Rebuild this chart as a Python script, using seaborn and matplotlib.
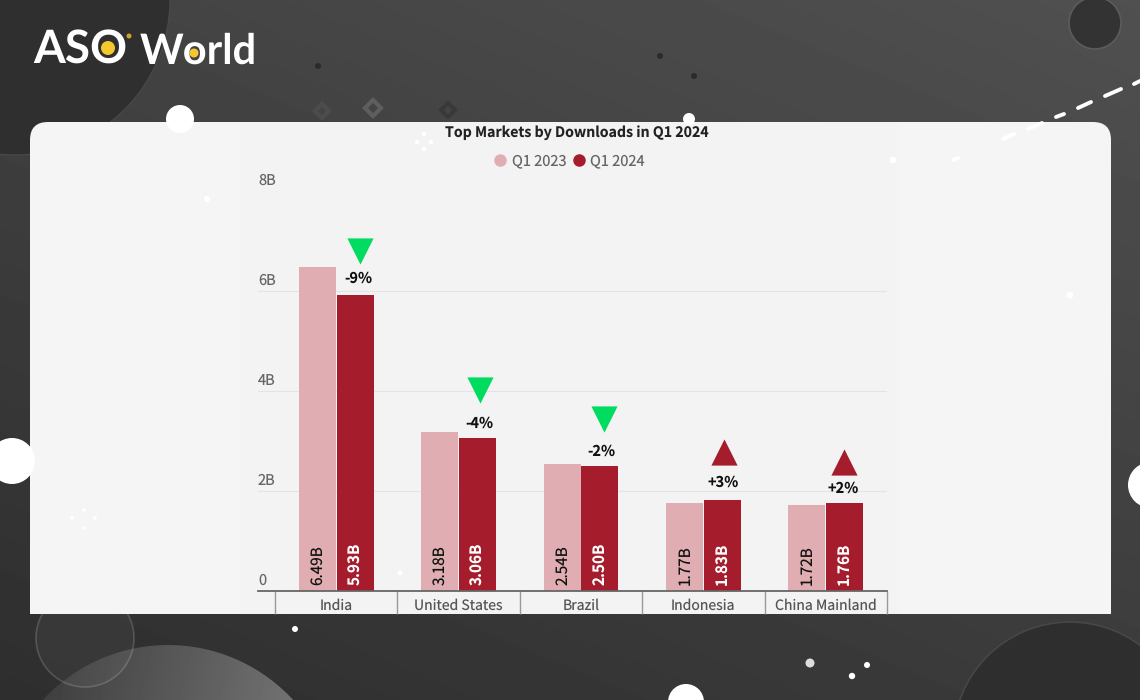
import matplotlib
matplotlib.use("Agg")
import matplotlib.pyplot as plt
from matplotlib.lines import Line2D
from matplotlib.patches import Circle, FancyBboxPatch, Polygon, Rectangle
from matplotlib.transforms import ScaledTranslation
import numpy as np
import pandas as pd
import seaborn as sns

# chart values, in billions of downloads
markets = ["India", "United States", "Brazil", "Indonesia", "China Mainland"]
q1_2023 = [6.49, 3.18, 2.54, 1.77, 1.72]
q1_2024 = [5.93, 3.06, 2.50, 1.83, 1.76]
change = ["-9%", "-4%", "-2%", "+3%", "+2%"]
y_ticks = [0, 2, 4, 6, 8]
y_labels = ["0", "2B", "4B", "6B", "8B"]

W, H = 1140, 700
PALE = "#E0AEB2"
RED = "#A51C2C"
GREEN = "#00DC5F"

sns.set_theme(style="white")
plt.rcParams["font.family"] = ["Noto Sans CJK SC", "DejaVu Sans"]
plt.rcParams["text.hinting"] = "none"

fig = plt.figure(figsize=(W / 100, H / 100), dpi=100)

# background layer, in pixel coordinates
bg = fig.add_axes([0, 0, 1, 1], zorder=0)
bg.axis("off")

xx, yy = np.meshgrid(np.arange(W), np.arange(H))
shade = 46 + 0.012 * xx + 0.029 * (H - yy)
bg.imshow(shade, cmap="gray", vmin=0, vmax=255, extent=(0, W, H, 0), aspect="auto", zorder=0)
bg.set_xlim(0, W)
bg.set_ylim(H, 0)

bg.add_patch(Circle((15, 0), 155, fc="#2f2f2f", ec="#484848", lw=1, zorder=1))
bg.add_patch(Circle((1070, 739), 117, fc="#2e2e2e", ec="#474747", lw=1.2, zorder=1))
bg.add_patch(Circle((1095, 23), 26, fc="#333333", ec="#5c5c5c", lw=1.2, zorder=1))

# dome at the bottom left, lighter to the right
dome = bg.imshow(52 + 0.2 * xx + 0.05 * (yy - 645), cmap="gray", vmin=0, vmax=255,
                 extent=(0, W, H, 0), aspect="auto", zorder=1)
dome.set_clip_path(Circle((168, 815), 170, transform=bg.transData))
bg.add_patch(Circle((85, 638), 49, fc=(1, 1, 1, 0.04), ec=(1, 1, 1, 0.16), lw=1.2, zorder=2))

# faint shapes over the top band
for x, y in [(318, 66), (660, 56), (694, 76)]:
    bg.add_patch(Circle((x, y), 3, fc="#2b2b2b", ec="none", zorder=2))
for x, y, r, c in [(373, 108, 8, "#5e5e5e"), (322, 111, 7, "#4c4c4c"), (448, 110, 7, "#393939")]:
    bg.add_patch(Polygon([(x - r, y), (x, y - r), (x + r, y), (x, y + r)], fc="none", ec=c, lw=3, zorder=2))

# card, square at the bottom
card = FancyBboxPatch((30 + 18, 122 + 18), 1081 - 36, 560, boxstyle="round,pad=18,rounding_size=18",
                      fc="#f5f5f5", ec="none", zorder=3)
bg.add_patch(card)
card.set_clip_path(Rectangle((0, 0), W, 614, transform=bg.transData))
bg.add_patch(Rectangle((240, 122), 660, 492, fc="#f3f3f3", ec="none", zorder=3))

# white dots and dashes over everything in the background
for x, y, r in [(180, 119, 14), (12, 461, 23), (1151, 485, 23), (686, 702, 18), (689, 119, 6),
                (295, 629, 3), (852, 676, 3.2), (867, 665, 3), (207, 199, 3), (893, 160, 3.5),
                (1070, 295, 3.5), (400, 573, 2.5), (424, 134, 2.2), (417, 142, 2.2), (431, 142, 2.2),
                (424, 149, 2.2), (72, 518, 1.8), (84, 510, 1.8), (95, 518, 1.8), (84, 528, 1.8)]:
    bg.add_patch(Circle((x, y), r, fc="white", ec="none", zorder=4))
bg.add_patch(Circle((810, 663), 4.5, fc="#dddddd", ec="none", zorder=4))
for x0, y0, x1, y1 in [(953, 160, 958, 158), (1003, 139, 1014, 134), (1028, 129, 1042, 123),
                       (1056, 117, 1064, 114), (1078, 108, 1091, 102), (1105, 96, 1121, 89),
                       (1134, 84, 1140, 81)]:
    bg.plot([x0, x1], [y0, y1], color="white", lw=2.8, solid_capstyle="round", zorder=4)

# logo
bg.text(33, 64, "ASO", color="white", family="Lato", weight="bold", fontsize=33,
        ha="left", va="baseline", zorder=5)
bg.text(140, 64, "World", color="white", family="Lato", weight="bold", fontsize=30,
        ha="left", va="baseline", zorder=5)
bg.add_patch(Circle((108, 48), 7, fc="#F4C82E", ec="none", zorder=6))
bg.add_patch(Circle((194, 53), 4.5, fc="#F4C82E", ec="none", zorder=6))
bg.add_patch(Circle((129, 36), 2.5, fc="#C9A52B", ec="none", zorder=6))

# chart layer
ax = fig.add_axes([258 / W, 1 - 591 / H, (887 - 258) / W, 400 / H], zorder=1)
ax.patch.set_alpha(0)

df = pd.DataFrame({
    "market": markets * 2,
    "downloads": q1_2023 + q1_2024,
    "quarter": ["Q1 2023"] * 5 + ["Q1 2024"] * 5,
})
sns.barplot(data=df, x="market", y="downloads", hue="quarter", palette=[PALE, RED],
            width=0.62, gap=0.025, saturation=1, legend=False, linewidth=0, ax=ax)

ax.set_xlim(-0.5 - 17 / 122.4, 4.5)
ax.set_ylim(0, 8)
ax.set_xlabel("")
ax.set_ylabel("")
sns.despine(ax=ax, left=True, right=True, top=True)
ax.spines["bottom"].set_color("#666666")
ax.spines["bottom"].set_linewidth(1.3)

ax.set_yticks(y_ticks)
ax.set_yticklabels(y_labels, ha="left", va="bottom", color="#666666", fontsize=10.5)
ax.tick_params(axis="y", length=0, pad=0)
for label in ax.get_yticklabels():
    label.set_transform(label.get_transform() + ScaledTranslation(0, 3 / 100, fig.dpi_scale_trans))
ax.yaxis.grid(True, color="#e4e4e4", lw=0.8)
ax.yaxis.get_gridlines()[-1].set_visible(False)
ax.set_axisbelow(True)

ax.set_xticks(range(len(markets)))
ax.set_xticklabels(markets, color="#555555", fontsize=10.1)
ax.tick_params(axis="x", which="major", length=0, pad=5.3)
ax.set_xticks(np.arange(len(markets) + 1) - 0.5, minor=True)
ax.tick_params(axis="x", which="minor", length=16.5, width=1, color="#999999", bottom=True)

# value labels inside the bars
for cont, values, col, wt in [(ax.containers[0], q1_2023, "#111111", "normal"),
                              (ax.containers[1], q1_2024, "white", "bold")]:
    for bar, v in zip(cont, values):
        ax.annotate(f"{v:.2f}B", (bar.get_x() + bar.get_width() / 2 + 0.004, 0), xytext=(0, 4.5),
                    textcoords="offset points", rotation=90, ha="center", va="bottom",
                    color=col, fontweight=wt, fontsize=11)

# change arrows and labels, placed relative to the 2024 bar
text_dx = [22.5, 21, 20, 20, 17.5]
text_dy = [16.5, 15, 15, 17, 15]
arrow_dx = [23.5, 21.5, 22.5, 20.5, 18]
arrow_dy = [44, 48, 47, 47.5, 41]
for i, (v, pct) in enumerate(zip(q1_2024, change)):
    up = pct.startswith("+")
    ax.annotate(pct, (i, v), xytext=(text_dx[i] * 0.72, text_dy[i] * 0.72), textcoords="offset points",
                ha="center", va="center", color="#111111", fontweight="bold", fontsize=10.5, zorder=5)
    ax.scatter(i + arrow_dx[i] / 122.4, v + arrow_dy[i] / 50, marker="^" if up else "v", s=355,
               color=RED if up else GREEN, linewidths=0, zorder=5, clip_on=False)

# title and legend
fig.text(576.5 / W, 1 - 133 / H, "Top Markets by Downloads in Q1 2024", ha="center", va="center",
         color="#222222", fontweight="bold", fontsize=10.2, zorder=3)
handles = [Line2D([], [], ls="", marker="o", ms=8, mfc=c, mec=c) for c in [PALE, RED]]
ax.legend(handles, ["Q1 2023", "Q1 2024"], ncol=2, frameon=False, loc="center",
          bbox_to_anchor=(568 / W, 1 - 161 / H), bbox_transform=fig.transFigure,
          labelcolor="#666666", fontsize=10.5, handletextpad=0.2, columnspacing=0.25, handlelength=1.2)

fig.savefig("out.png", dpi=100)
